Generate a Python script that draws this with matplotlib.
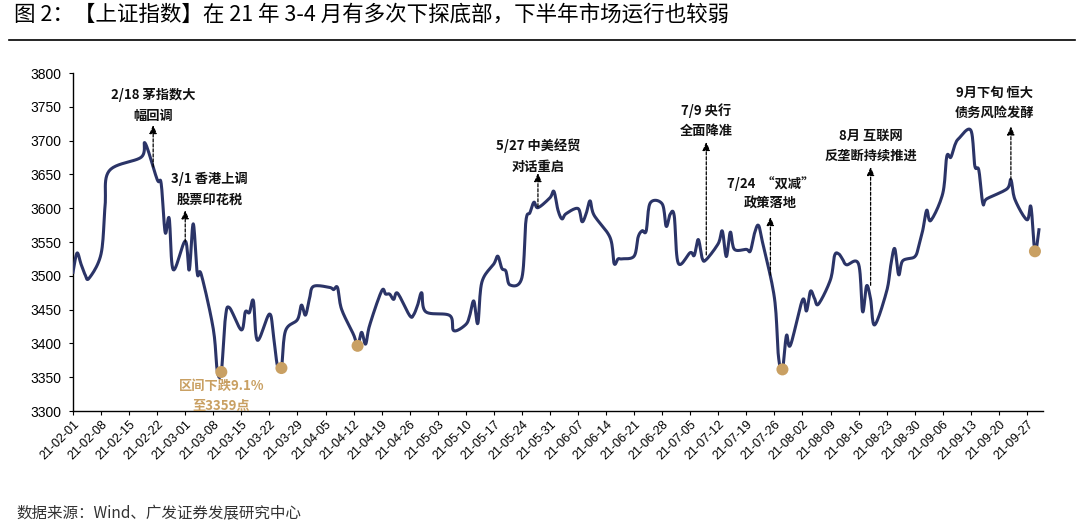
import matplotlib
matplotlib.use("Agg")
import matplotlib.pyplot as plt
import matplotlib.dates as mdates
import numpy as np
import pandas as pd

plt.rcParams['font.family'] = ['Noto Sans CJK SC', 'DejaVu Sans']

# 上证指数收盘价 (2021-02-01 ~ 2021-09-30)
dates = [
    "2021-02-01", "2021-02-02", "2021-02-03", "2021-02-04", "2021-02-05",
    "2021-02-08", "2021-02-09", "2021-02-10", "2021-02-18", "2021-02-19",
    "2021-02-22", "2021-02-23", "2021-02-24", "2021-02-25", "2021-02-26",
    "2021-03-01", "2021-03-02", "2021-03-03", "2021-03-04", "2021-03-05",
    "2021-03-08", "2021-03-09", "2021-03-10", "2021-03-11", "2021-03-12",
    "2021-03-15", "2021-03-16", "2021-03-17", "2021-03-18", "2021-03-19",
    "2021-03-22", "2021-03-23", "2021-03-24", "2021-03-25", "2021-03-26",
    "2021-03-29", "2021-03-30", "2021-03-31", "2021-04-01", "2021-04-02",
    "2021-04-06", "2021-04-07", "2021-04-08", "2021-04-09",
    "2021-04-12", "2021-04-13", "2021-04-14", "2021-04-15", "2021-04-16",
    "2021-04-19", "2021-04-20", "2021-04-21", "2021-04-22", "2021-04-23",
    "2021-04-26", "2021-04-27", "2021-04-28", "2021-04-29", "2021-04-30",
    "2021-05-06", "2021-05-07",
    "2021-05-10", "2021-05-11", "2021-05-12", "2021-05-13", "2021-05-14",
    "2021-05-17", "2021-05-18", "2021-05-19", "2021-05-20", "2021-05-21",
    "2021-05-24", "2021-05-25", "2021-05-26", "2021-05-27", "2021-05-28",
    "2021-05-31", "2021-06-01", "2021-06-02", "2021-06-03", "2021-06-04",
    "2021-06-07", "2021-06-08", "2021-06-09", "2021-06-10", "2021-06-11",
    "2021-06-15", "2021-06-16", "2021-06-17", "2021-06-18",
    "2021-06-21", "2021-06-22", "2021-06-23", "2021-06-24", "2021-06-25",
    "2021-06-28", "2021-06-29", "2021-06-30", "2021-07-01", "2021-07-02",
    "2021-07-05", "2021-07-06", "2021-07-07", "2021-07-08", "2021-07-09",
    "2021-07-12", "2021-07-13", "2021-07-14", "2021-07-15", "2021-07-16",
    "2021-07-19", "2021-07-20", "2021-07-21", "2021-07-22", "2021-07-23",
    "2021-07-26", "2021-07-27", "2021-07-28", "2021-07-29", "2021-07-30",
    "2021-08-02", "2021-08-03", "2021-08-04", "2021-08-05", "2021-08-06",
    "2021-08-09", "2021-08-10", "2021-08-11", "2021-08-12", "2021-08-13",
    "2021-08-16", "2021-08-17", "2021-08-18", "2021-08-19", "2021-08-20",
    "2021-08-23", "2021-08-24", "2021-08-25", "2021-08-26", "2021-08-27",
    "2021-08-30", "2021-08-31", "2021-09-01", "2021-09-02", "2021-09-03",
    "2021-09-06", "2021-09-07", "2021-09-08", "2021-09-09", "2021-09-10",
    "2021-09-13", "2021-09-14", "2021-09-15", "2021-09-16", "2021-09-17",
    "2021-09-22", "2021-09-23", "2021-09-24",
    "2021-09-27", "2021-09-28", "2021-09-29", "2021-09-30",
]
close = [
    3505.28, 3533.68, 3517.31, 3501.86, 3496.33,
    3532.44, 3603.49, 3655.09, 3675.36, 3696.17,
    3642.44, 3636.36, 3564.08, 3585.05, 3509.08,
    3551.40, 3508.59, 3576.90, 3503.49, 3501.99,
    3421.41, 3359.29, 3357.74, 3436.83, 3453.08,
    3419.95, 3446.73, 3445.55, 3463.07, 3404.66,
    3443.44, 3411.51, 3367.06, 3363.59, 3418.33,
    3435.30, 3456.68, 3441.91, 3466.33, 3484.39,
    3482.85, 3479.63, 3482.55, 3450.68,
    3412.95, 3396.47, 3416.42, 3398.99, 3426.62,
    3477.55, 3472.94, 3472.93, 3465.11, 3474.17,
    3441.17, 3442.61, 3457.07, 3474.90, 3446.86,
    3441.28, 3418.87,
    3427.99, 3441.85, 3462.75, 3429.54, 3490.38,
    3517.62, 3529.01, 3510.96, 3506.94, 3486.56,
    3497.28, 3581.34, 3593.36, 3608.85, 3600.78,
    3615.48, 3624.71, 3597.14, 3584.22, 3591.84,
    3599.54, 3580.11, 3591.40, 3610.86, 3589.75,
    3556.56, 3518.33, 3525.10, 3525.10,
    3529.18, 3557.41, 3566.65, 3566.22, 3607.56,
    3606.37, 3573.18, 3591.20, 3588.78, 3518.76,
    3534.32, 3530.26, 3553.72, 3525.50, 3524.09,
    3547.84, 3566.22, 3528.50, 3564.59, 3539.30,
    3539.12, 3536.79, 3562.30, 3574.73, 3550.40,
    3467.44, 3381.18, 3361.59, 3411.72, 3397.36,
    3464.29, 3447.99, 3477.22, 3466.56, 3458.23,
    3494.63, 3529.93, 3532.62, 3524.74, 3516.30,
    3517.34, 3446.98, 3485.29, 3465.55, 3427.33,
    3477.13, 3514.47, 3540.38, 3501.66, 3522.16,
    3528.15, 3543.94, 3567.10, 3597.04, 3581.73,
    3621.86, 3676.59, 3675.19, 3693.13, 3703.11,
    3715.37, 3662.60, 3656.22, 3607.09, 3613.97,
    3628.49, 3642.22, 3613.07,
    3582.83, 3602.22, 3536.29, 3568.17,
]

# 标记的低点
low_dates = ["2021-03-10", "2021-03-25", "2021-04-13", "2021-07-28", "2021-09-29"]
low_values = [3357.74, 3363.59, 3396.47, 3361.59, 3536.29]

# 事件标注: 文字, 文字位置(日期, 点位), 箭头日期, 箭头底部点位, 箭头顶部点位
events = [
    ("2/18 茅指数大\n幅回调", "2021-02-21", 3752, "2021-02-21", 3661, 3723),
    ("3/1 香港上调\n股票印花税", "2021-03-07", 3628, "2021-03-01", 3550, 3597),
    ("5/27 中美经贸\n对话重启", "2021-05-28", 3677, "2021-05-28", 3602, 3652),
    ("7/9 央行\n全面降准", "2021-07-09", 3729, "2021-07-09", 3531, 3698),
    ("7/24  “双减”\n政策落地", "2021-07-25", 3622, "2021-07-25", 3501, 3587),
    ("8月 互联网\n反垄断持续推进", "2021-08-19", 3692, "2021-08-19", 3486, 3661),
    ("9月下旬 恒大\n债务风险发酵", "2021-09-19", 3756, "2021-09-23", 3642, 3721),
]

line_color = "#2b3467"
tan = "#c9a063"

x = mdates.date2num(pd.to_datetime(dates))
y = np.array(close)


def smooth(xs, ys, n=12):
    # Catmull-Rom 风格的贝塞尔平滑 (类似 Excel 平滑线)
    px = np.concatenate([[xs[0]], xs, [xs[-1]]])
    py = np.concatenate([[ys[0]], ys, [ys[-1]]])
    t = np.linspace(0, 1, n, endpoint=False)
    outx, outy = [], []
    for i in range(1, len(px) - 2):
        p0 = np.array([px[i], py[i]])
        p1 = np.array([px[i + 1], py[i + 1]])
        c1 = p0 + (p1 - np.array([px[i - 1], py[i - 1]])) / 6
        c2 = p1 - (np.array([px[i + 2], py[i + 2]]) - p0) / 6
        b = ((1 - t) ** 3)[:, None] * p0 + (3 * (1 - t) ** 2 * t)[:, None] * c1 \
            + (3 * (1 - t) * t ** 2)[:, None] * c2 + (t ** 3)[:, None] * p1
        outx.append(b[:, 0])
        outy.append(b[:, 1])
    outx.append([xs[-1]])
    outy.append([ys[-1]])
    return np.concatenate(outx), np.concatenate(outy)


sx, sy = smooth(x, y)

fig = plt.figure(figsize=(10.8, 5.23), dpi=100)
ax = fig.add_axes([0.0676, 0.2141, 0.8981, 0.6463])

ax.plot(sx, sy, color=line_color, lw=2.2, solid_joinstyle="round", zorder=3)
ax.scatter(mdates.date2num(pd.to_datetime(low_dates)), low_values, s=75,
           color=tan, zorder=4, edgecolors="none")

for text, tdate, tval, adate, a0, a1 in events:
    tx = mdates.date2num(pd.Timestamp(tdate))
    axx = mdates.date2num(pd.Timestamp(adate))
    ax.text(tx, tval, text, ha="center", va="center", fontsize=9.5,
            fontweight="bold", linespacing=1.55, color="#111111", zorder=5)
    ax.annotate("", xy=(axx, a1), xytext=(axx, a0),
                arrowprops=dict(arrowstyle="-|>,head_length=0.5,head_width=0.22",
                                color="black", lw=0.9, ls=(0, (2.5, 1.5)),
                                shrinkA=0, shrinkB=0), zorder=5)

ax.text(mdates.date2num(pd.Timestamp("2021-03-10")), 3322, "区间下跌9.1%\n至3359点",
        ha="center", va="center", fontsize=9.5, fontweight="bold",
        linespacing=1.55, color=tan, zorder=5)

ax.set_ylim(3300, 3800)
ax.set_yticks(np.arange(3300, 3801, 50))
ax.set_xlim(mdates.date2num(pd.Timestamp("2021-02-01")),
            mdates.date2num(pd.Timestamp("2021-10-01")))
xticks = pd.date_range("2021-02-01", "2021-09-27", freq="7D")
ax.set_xticks(mdates.date2num(xticks))
ax.set_xticklabels([d.strftime("%y-%m-%d") for d in xticks], rotation=45,
                   ha="right", rotation_mode="anchor", fontsize=9,
                   family=["Liberation Sans", "DejaVu Sans"])
for lab in ax.get_yticklabels():
    lab.set_family(["Liberation Sans", "DejaVu Sans"])
    lab.set_fontsize(10)

for s in ["top", "right"]:
    ax.spines[s].set_visible(False)
for s in ["left", "bottom"]:
    ax.spines[s].set_linewidth(1.0)
    ax.spines[s].set_color("black")
ax.tick_params(axis="both", direction="out", length=3, width=0.8, colors="black",
               pad=2)
ax.tick_params(axis="y", pad=5)

fig.text(0.013, 0.972, "图 2：【上证指数】在 21 年 3-4 月有多次下探底部，下半年市场运行也较弱",
         fontsize=15.5, va="center", ha="left", color="black")
fig.add_artist(plt.Line2D([0.008, 0.995], [0.923, 0.923], color="black", lw=1.2))
fig.text(0.015, 0.017, "数据来源：Wind、广发证券发展研究中心", fontsize=11.2,
         va="center", ha="left", color="#333333")

fig.savefig("out.png", dpi=100)
